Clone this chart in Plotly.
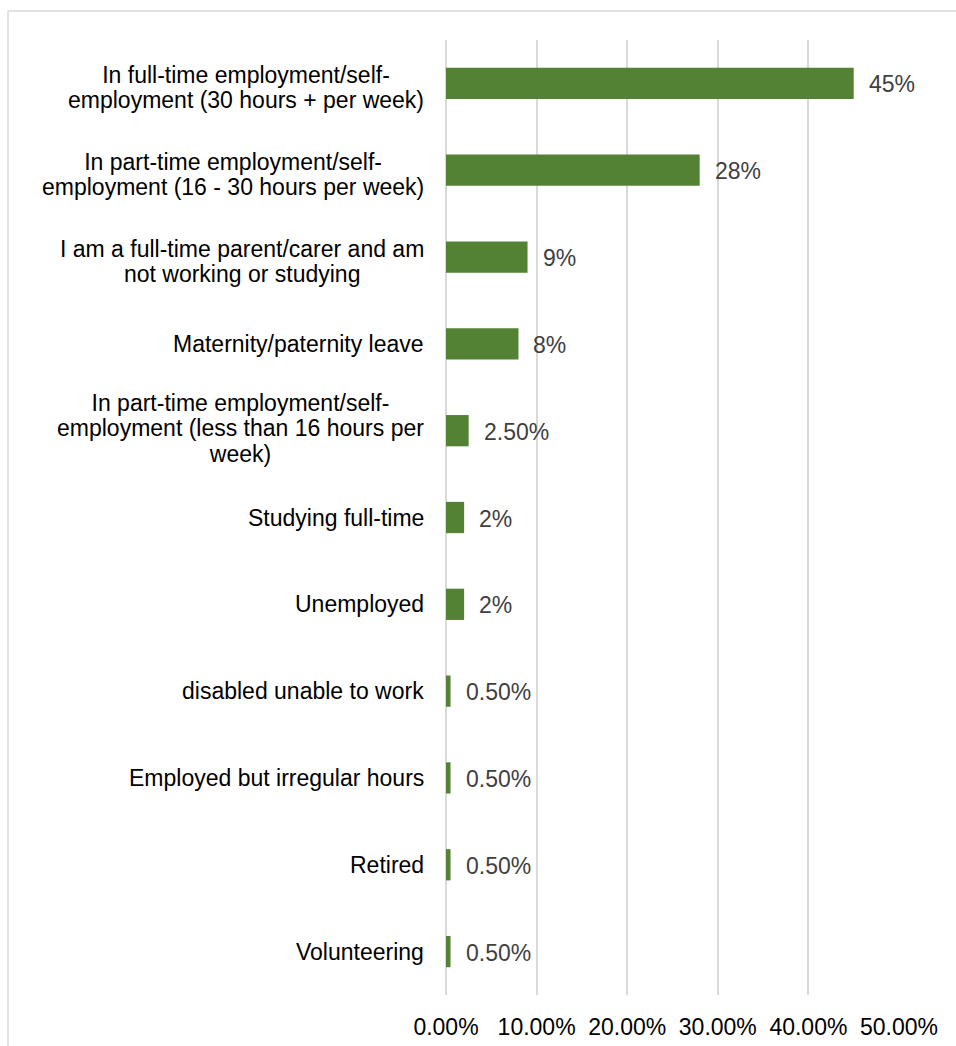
import plotly.graph_objects as go

# Employment status of respondents (share of all responses, %)
categories = [
    "In full-time employment/self-<br>employment (30 hours + per week)",
    "In part-time employment/self-<br>employment (16 - 30 hours per week)",
    "I am a full-time parent/carer and am<br>not working or studying",
    "Maternity/paternity leave",
    "In part-time employment/self-<br>employment (less than 16 hours per<br>week)",
    "Studying full-time",
    "Unemployed",
    "disabled unable to work",
    "Employed but irregular hours",
    "Retired",
    "Volunteering",
]
values = [45, 28, 9, 8, 2.5, 2, 2, 0.5, 0.5, 0.5, 0.5]
tick_values = [0, 10, 20, 30, 40, 50]
tick_labels = ["0.00%", "10.00%", "20.00%", "30.00%", "40.00%", "50.00%"]

W, H = 956, 1046
ML, MR, MT, MB = 446, 57, 40, 51
FONT = "Liberation Sans, Arial, sans-serif"
GREEN = "#548235"
GRID = "#d9d9d9"
# vertical nudge of wrapped labels by number of lines
LABEL_SHIFT = {1: 0, 2: -4.5, 3: 2}


def pct_label(v):
    return f"{v:.0f}%" if float(v).is_integer() else f"{v:.2f}%"


ids = list(range(len(categories)))

fig = go.Figure(
    go.Bar(
        x=values,
        y=ids,
        orientation="h",
        marker=dict(color=GREEN, line=dict(width=0)),
        hoverinfo="skip",
    )
)

annotations = []
# category labels, lines centred within each block
for i, name in enumerate(categories):
    lines = name.split("<br>")
    txt = "<br>".join(f'<span style="font-size:23px">{ln}</span>' for ln in lines)
    annotations.append(dict(
        x=0, xref="paper", y=i, yref="y",
        text=txt, showarrow=False,
        xanchor="right", yanchor="middle", align="center",
        xshift=-20, yshift=LABEL_SHIFT[len(lines)],
        font=dict(family=FONT, size=19.6, color="#000000"),
    ))
# value labels beside each bar
for i, v in enumerate(values):
    annotations.append(dict(
        x=v, xref="x", y=i, yref="y",
        text=pct_label(v), showarrow=False,
        xanchor="left", yanchor="middle",
        xshift=13, yshift=-1,
        font=dict(family=FONT, size=23, color="#404040"),
    ))

# chart container border (top and left edges visible)
plot_w = W - ML - MR
plot_h = H - MT - MB
bx0 = (8 - ML) / plot_w
by1 = (H - MB - 11) / plot_h
fig.add_shape(type="line", xref="paper", yref="paper",
              x0=bx0, x1=(W + 20 - ML) / plot_w, y0=by1, y1=by1,
              line=dict(color=GRID, width=1.5))
fig.add_shape(type="line", xref="paper", yref="paper",
              x0=bx0, x1=bx0, y0=by1, y1=(-MB - 20) / plot_h,
              line=dict(color=GRID, width=1.5))

fig.update_layout(
    width=W, height=H,
    margin=dict(l=ML, r=MR, t=MT, b=MB, pad=0, autoexpand=False),
    paper_bgcolor="white", plot_bgcolor="white",
    bargap=0.64,
    showlegend=False,
    annotations=annotations,
    font=dict(family=FONT, size=23, color="#000000"),
)
fig.update_xaxes(
    range=[0, 50],
    tickvals=tick_values, ticktext=tick_labels,
    showgrid=True, gridcolor=GRID, gridwidth=1.5,
    zeroline=True, zerolinecolor=GRID, zerolinewidth=1.5,
    showline=False, automargin=False,
    ticks="outside", ticklen=11, tickcolor="rgba(0,0,0,0)",
    tickfont=dict(family=FONT, size=23, color="#000000"),
    fixedrange=True,
)
fig.update_yaxes(
    range=[len(categories) - 0.5, -0.5],
    showticklabels=False, showgrid=False, zeroline=False, showline=False,
    automargin=False,
    fixedrange=True,
)

fig.write_html("out.html", config={"displayModeBar": False})
